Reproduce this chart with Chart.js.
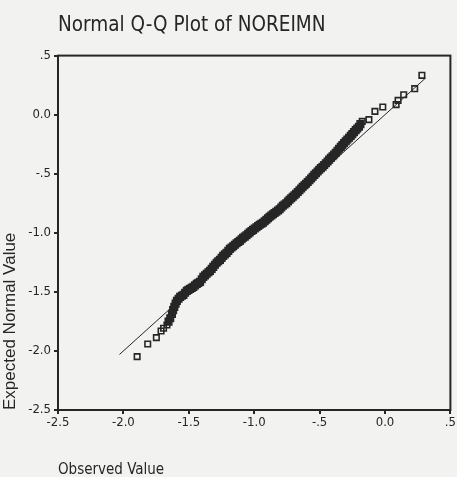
<!DOCTYPE html>
<html><head><meta charset="utf-8">
<script src="https://cdn.jsdelivr.net/npm/chart.js@4.4.0/dist/chart.umd.min.js"></script>
<style>html,body{margin:0;padding:0;background:#f2f2f0;overflow:hidden}canvas{display:block}</style>
</head><body>
<canvas id="c" width="457" height="477"></canvas>
<script>
const chartTitle = 'Normal Q-Q Plot of NOREIMN';
const xAxisTitle = 'Observed Value';
const yAxisTitle = 'Expected Normal Value';
const xTickLabels = ['-2.5', '-2.0', '-1.5', '-1.0', '-.5', '0.0', '.5'];
const yTickLabels = ['-2.5', '-2.0', '-1.5', '-1.0', '-.5', '0.0', '.5'];

// observed value (x) and expected normal value (y), sorted
const observed = [
  -1.895, -1.814, -1.748, -1.712, -1.693, -1.667, -1.655, -1.642,
  -1.629, -1.620, -1.611, -1.601, -1.591, -1.578, -1.566, -1.553, -1.541, -1.528,
  -1.515, -1.503, -1.490, -1.477, -1.465, -1.452, -1.439, -1.427, -1.414, -1.401,
  -1.389, -1.376, -1.363, -1.350, -1.338, -1.325, -1.313, -1.300, -1.287, -1.275,
  -1.262, -1.249, -1.237, -1.224, -1.211, -1.198, -1.186, -1.173, -1.161, -1.148,
  -1.135, -1.122, -1.110, -1.097, -1.085, -1.072, -1.059, -1.046, -1.034, -1.021,
  -1.009, -0.996, -0.983, -0.970, -0.958, -0.945, -0.933, -0.920, -0.907, -0.894,
  -0.882, -0.869, -0.857, -0.844, -0.831, -0.818, -0.806, -0.793, -0.781, -0.768,
  -0.755, -0.742, -0.730, -0.717, -0.705, -0.692, -0.680, -0.667, -0.654, -0.641,
  -0.629, -0.616, -0.604, -0.591, -0.578, -0.565, -0.553, -0.540, -0.528, -0.515,
  -0.503, -0.490, -0.477, -0.465, -0.452, -0.439, -0.427, -0.414, -0.401, -0.389,
  -0.376, -0.363, -0.351, -0.338, -0.326, -0.313, -0.300, -0.288, -0.275, -0.262,
  -0.250, -0.237, -0.224, -0.212, -0.199, -0.188,
  -0.174, -0.123, -0.077, -0.017, 0.085, 0.100, 0.143, 0.227, 0.282
];
const expected = [
  -2.048, -1.941, -1.887, -1.831, -1.808, -1.780, -1.752, -1.723,
  -1.686, -1.655, -1.627, -1.600, -1.576, -1.558, -1.542, -1.533, -1.525, -1.508,
  -1.492, -1.483, -1.475, -1.466, -1.458, -1.445, -1.432, -1.424, -1.415, -1.393,
  -1.373, -1.360, -1.347, -1.334, -1.322, -1.305, -1.288, -1.271, -1.254, -1.241,
  -1.229, -1.212, -1.195, -1.183, -1.170, -1.153, -1.136, -1.125, -1.114, -1.101,
  -1.089, -1.078, -1.068, -1.055, -1.042, -1.032, -1.021, -1.008, -0.996, -0.985,
  -0.975, -0.964, -0.953, -0.942, -0.932, -0.923, -0.915, -0.902, -0.890, -0.877,
  -0.864, -0.853, -0.843, -0.832, -0.822, -0.811, -0.801, -0.786, -0.771, -0.760,
  -0.750, -0.735, -0.720, -0.707, -0.695, -0.682, -0.669, -0.655, -0.640, -0.625,
  -0.610, -0.597, -0.585, -0.570, -0.555, -0.540, -0.525, -0.510, -0.496, -0.481,
  -0.466, -0.453, -0.441, -0.426, -0.411, -0.396, -0.381, -0.366, -0.352, -0.337,
  -0.322, -0.305, -0.288, -0.273, -0.258, -0.241, -0.225, -0.210, -0.195, -0.180,
  -0.165, -0.148, -0.131, -0.117, -0.102, -0.080,
  -0.057, -0.042, 0.028, 0.065, 0.085, 0.121, 0.169, 0.220, 0.333
];
// reference line y = x, drawn between these observed values
const refLineEnds = [-2.03, 0.31];

const narrow = "'Liberation Sans Narrow', 'Arial Narrow', 'DejaVu Sans Condensed', sans-serif";
const regular = "'Liberation Sans', Arial, sans-serif";
const ink = '#262626';

const points = observed.map((v, i) => ({ x: v, y: expected[i] }));
const refLine = refLineEnds.map(v => ({ x: v, y: v }));

// overlapping markers in the crowded part of the plot merge into a solid band
function crowded(i) {
  const prev = i > 0 ? observed[i] - observed[i - 1] : Infinity;
  const next = i < observed.length - 1 ? observed[i + 1] - observed[i] : Infinity;
  return prev < 0.02 && next < 0.02;
}

const framePlugin = {
  id: 'frame',
  beforeDraw(chart) {
    const c = chart.ctx;
    c.save();
    c.fillStyle = '#f2f2f0';
    c.fillRect(0, 0, chart.width, chart.height);
    c.restore();
  },
  afterDatasetsDraw(chart) {
    const a = chart.chartArea, c = chart.ctx;
    c.save();
    c.strokeStyle = ink;
    c.lineWidth = 2;
    c.strokeRect(a.left, a.top, a.right - a.left, a.bottom - a.top);
    c.restore();
  }
};

new Chart(document.getElementById('c'), {
  type: 'scatter',
  data: {
    datasets: [
      {
        label: 'Observed',
        data: points,
        pointStyle: 'rect',
        pointRadius: 3.9,
        pointBorderWidth: (ctx) => crowded(ctx.dataIndex) ? 2.6 : 1.6,
        pointBorderColor: ink,
        pointBackgroundColor: (ctx) => crowded(ctx.dataIndex) ? ink : 'rgba(0,0,0,0)',
        showLine: false
      },
      {
        label: 'Reference',
        data: refLine,
        showLine: true,
        borderColor: ink,
        borderWidth: 1,
        pointRadius: 0
      }
    ]
  },
  options: {
    responsive: false,
    animation: false,
    devicePixelRatio: 1,
    layout: { padding: { left: 0, right: 4, top: 0, bottom: 0 } },
    plugins: {
      legend: { display: false },
      tooltip: { enabled: false },
      title: {
        display: true,
        text: chartTitle,
        align: 'start',
        fullSize: false,
        color: ink,
        font: { family: narrow, size: 20.5, weight: 'normal', lineHeight: 1.2 },
        padding: { top: 13, bottom: 18 }
      }
    },
    scales: {
      x: {
        type: 'linear',
        min: -2.5, max: 0.5,
        afterFit(s) { s.height = 67; },
        border: { display: false },
        grid: { drawOnChartArea: false, drawTicks: true, tickLength: 4, color: ink, lineWidth: 2 },
        ticks: {
          stepSize: 0.5, padding: 1, color: ink, maxRotation: 0, autoSkip: false,
          font: { family: narrow, size: 13 },
          callback: (v, i) => xTickLabels[i]
        },
        title: {
          display: true, text: xAxisTitle, align: 'start', color: ink,
          font: { family: narrow, size: 15, lineHeight: 1.2 },
          padding: { top: 0, bottom: -2 }
        }
      },
      y: {
        type: 'linear',
        min: -2.5, max: 0.5,
        afterFit(s) { s.width = 58; },
        border: { display: false },
        grid: { drawOnChartArea: false, drawTicks: true, tickLength: 4, color: ink, lineWidth: 2 },
        ticks: {
          stepSize: 0.5, padding: 3, color: ink,
          font: { family: narrow, size: 13 },
          callback: (v, i) => yTickLabels[i]
        },
        title: {
          display: true, text: yAxisTitle, align: 'start', color: ink,
          font: { family: regular, size: 17, lineHeight: 1.2 },
          padding: { top: 0, bottom: 0 }
        }
      }
    }
  },
  plugins: [framePlugin]
});
</script>
</body></html>
